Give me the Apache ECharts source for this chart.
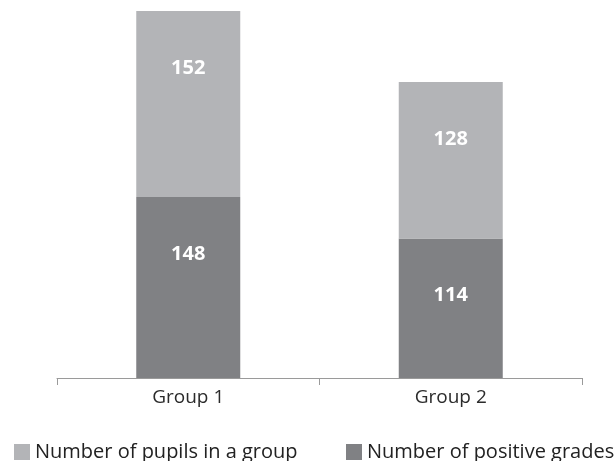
<!DOCTYPE html>
<html>
<head>
<meta charset="utf-8">
<script src="https://cdn.jsdelivr.net/npm/echarts@6/dist/echarts.min.js"></script>
<style>
  html, body { margin: 0; padding: 0; background: #fff; }
  #chart { width: 616px; height: 461px; }
</style>
</head>
<body>
<div id="chart"></div>
<script>
// data
var groups = ['Group 1', 'Group 2'];
var positiveGrades = [148, 114];
var pupilsInGroup = [152, 128];
var seriesNames = ['Number of pupils in a group', 'Number of positive grades'];

var FONT = '"Open Sans", "Noto Sans", sans-serif';
var LIGHT = '#b3b4b7';
var DARK = '#808184';

var chart = echarts.init(document.getElementById('chart'));

var barLabel = {
    show: true,
    position: ['50%', 57],
    align: 'center',
    verticalAlign: 'middle',
    color: '#fff',
    fontFamily: FONT,
    fontWeight: 'bold',
    fontSize: 20
};

var legendText = { fontFamily: FONT, fontSize: 20, color: '#222' };

chart.setOption({
    animation: false,
    backgroundColor: '#fff',
    grid: { left: 57, right: 34, top: 11, bottom: 83 },
    legend: [
        {
            left: 9, top: 437,
            itemWidth: 16, itemHeight: 16,
            itemGap: 0,
            icon: 'rect',
            data: [seriesNames[0]],
            textStyle: legendText
        },
        {
            left: 341, top: 437,
            itemWidth: 16, itemHeight: 16,
            itemGap: 0,
            icon: 'rect',
            data: [seriesNames[1]],
            textStyle: legendText
        }
    ],
    xAxis: {
        type: 'category',
        data: groups,
        axisLine: { lineStyle: { color: '#9a9a9a', width: 1 } },
        axisTick: { show: true, length: 7, lineStyle: { color: '#9a9a9a' } },
        axisLabel: { margin: 10, color: '#2b2b2b', fontFamily: FONT, fontSize: 19 }
    },
    yAxis: {
        type: 'value',
        min: 0,
        max: 300,
        show: false,
        splitLine: { show: false }
    },
    series: [
        {
            name: seriesNames[1],
            type: 'bar',
            stack: 'total',
            barWidth: 104,
            data: positiveGrades,
            itemStyle: { color: DARK },
            label: barLabel
        },
        {
            name: seriesNames[0],
            type: 'bar',
            stack: 'total',
            barWidth: 104,
            data: pupilsInGroup,
            itemStyle: { color: LIGHT },
            label: barLabel
        }
    ]
});
</script>
</body>
</html>
